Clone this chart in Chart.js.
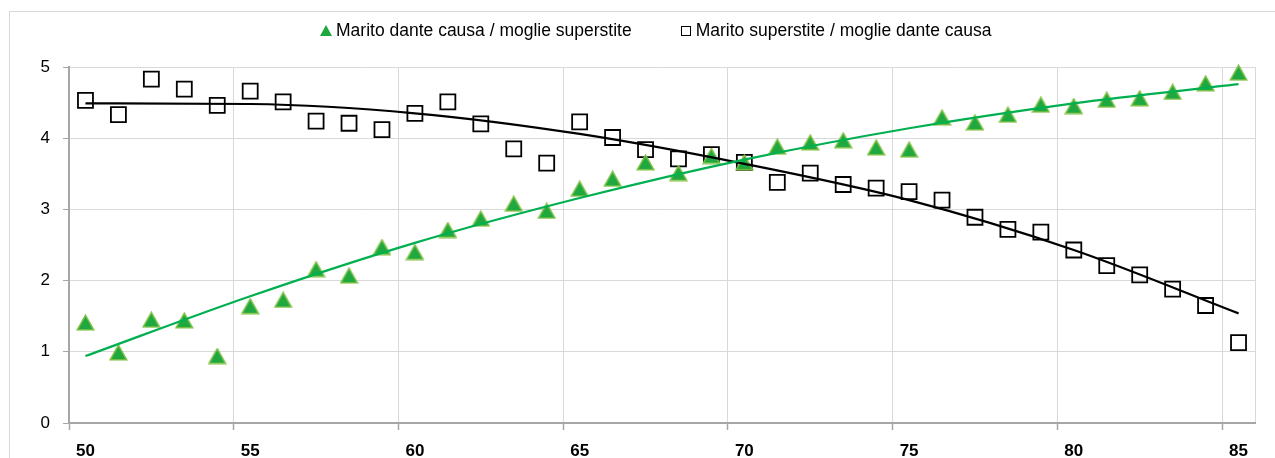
<!DOCTYPE html>
<html>
<head>
<meta charset="utf-8">
<script src="https://cdn.jsdelivr.net/npm/chart.js@4"></script>
<style>
  html, body { margin: 0; padding: 0; background: #fff; }
  #wrap { position: relative; width: 1275px; height: 458px; overflow: hidden; font-family: 'Liberation Sans', Arial, sans-serif; }
  #frame { position: absolute; left: 9px; top: 11px; width: 1300px; height: 500px; border: 1px solid #d9d9d9; }
  #chart { position: absolute; left: 0; top: 0; }
  #legend { position: absolute; left: 320px; top: 20px; display: flex; align-items: center; font-size: 17.5px; color: #000; white-space: nowrap; }
  .item { display: flex; align-items: center; }
  .item + .item { margin-left: 49px; }
  .tri { width: 0; height: 0; border-left: 6px solid transparent; border-right: 6px solid transparent; border-bottom: 11px solid #1ea83f; margin-right: 4px; }
  .sq { width: 8px; height: 8px; border: 1.5px solid #000; margin-right: 5px; }
</style>
</head>
<body>
<div id="wrap">
  <div id="frame"></div>
  <canvas id="chart" width="1275" height="458"></canvas>
  <div id="legend"></div>
</div>
<script>
  // ── Data ──────────────────────────────────────────
  const ages = [50, 51, 52, 53, 54, 55, 56, 57, 58, 59, 60, 61, 62, 63, 64, 65, 66, 67,
                68, 69, 70, 71, 72, 73, 74, 75, 76, 77, 78, 79, 80, 81, 82, 83, 84, 85];
  const maritoDante = [1.41, 0.99, 1.45, 1.44, 0.94, 1.64, 1.73, 2.16, 2.07, 2.47, 2.40, 2.71,
                       2.87, 3.08, 2.98, 3.29, 3.43, 3.66, 3.51, 3.75, 3.66, 3.88, 3.94, 3.97,
                       3.87, 3.84, 4.29, 4.22, 4.33, 4.47, 4.45, 4.54, 4.56, 4.65, 4.77, 4.92];
  const maritoSuperstite = [4.53, 4.33, 4.83, 4.69, 4.46, 4.66, 4.51, 4.24, 4.21, 4.12, 4.35, 4.51,
                            4.20, 3.85, 3.65, 4.23, 4.01, 3.84, 3.71, 3.77, 3.66, 3.38, 3.51, 3.35,
                            3.30, 3.25, 3.13, 2.89, 2.72, 2.68, 2.43, 2.21, 2.08, 1.88, 1.65, 1.13];
  // trendlines
  const trendAges = [50, 55, 60, 65, 70, 75, 80, 85];
  const trendDante = [0.94, 1.78, 2.53, 3.16, 3.70, 4.14, 4.49, 4.76];
  const trendSuperstite = [4.49, 4.48, 4.35, 4.06, 3.64, 3.13, 2.43, 1.54];
  const labelDante = 'Marito dante causa / moglie superstite';
  const labelSuperstite = 'Marito superstite / moglie dante causa';

  // ── Styles ──────────────────────────────────────────
  const FONT = "'Liberation Sans', Arial, sans-serif";
  const GRID = '#d9d9d9';
  const AXIS = '#a6a6a6';

  // triangle marker centred in its box, like the spreadsheet one
  function triangleMarker() {
    const c = document.createElement('canvas');
    c.width = 19; c.height = 17;
    const g = c.getContext('2d');
    g.beginPath();
    g.moveTo(9.5, 1.2); g.lineTo(17.8, 15.8); g.lineTo(1.2, 15.8); g.closePath();
    g.fillStyle = '#1ea83f'; g.fill();
    g.lineWidth = 1.5; g.strokeStyle = '#7cc043'; g.stroke();
    return c;
  }

  const isMajor = ctx => ctx.index === undefined || ages[ctx.index] % 5 === 0;

  const trendPts = (vals) => trendAges.map((a, i) => ({ x: String(a), y: vals[i] }));

  const chart = new Chart(document.getElementById('chart'), {
    type: 'line',
    data: {
      labels: ages.map(String),
      datasets: [
        { label: 'trend dante', data: trendPts(trendDante), borderColor: '#00b050', borderWidth: 2.2,
          pointRadius: 0, cubicInterpolationMode: 'monotone', spanGaps: true, order: 0, clip: false },
        { label: 'trend superstite', data: trendPts(trendSuperstite), borderColor: '#000', borderWidth: 2.2,
          pointRadius: 0, cubicInterpolationMode: 'monotone', spanGaps: true, order: 0, clip: false },
        { label: labelDante, data: maritoDante, showLine: false, pointStyle: triangleMarker(), pointRadius: 9,
          legendMarker: 'tri', order: 1, clip: false },
        { label: labelSuperstite, data: maritoSuperstite, showLine: false, pointStyle: 'rect', pointRadius: 10.6,
          pointBorderWidth: 1.8, pointBorderColor: '#000', pointBackgroundColor: 'rgba(0,0,0,0)',
          legendMarker: 'sq', order: 1, clip: false }
      ]
    },
    options: {
      responsive: false, animation: false, devicePixelRatio: 1,
      layout: { padding: { left: 10, right: 20, top: 67, bottom: 0 } },
      plugins: { legend: { display: false }, tooltip: { enabled: false } },
      scales: {
        x: {
          type: 'category', offset: true,
          grid: { offset: true, color: ctx => isMajor(ctx) ? GRID : 'rgba(0,0,0,0)',
                  tickColor: ctx => (ctx.index !== undefined && ages[ctx.index] % 5 === 0) ? AXIS : 'rgba(0,0,0,0)',
                  tickLength: 7, tickWidth: 1.5 },
          border: { color: AXIS, width: 2 },
          ticks: { autoSkip: false, maxRotation: 0, padding: 11, color: '#000',
                   font: { family: FONT, size: 17, weight: 'bold' },
                   callback: (v) => ages[v] % 5 === 0 ? String(ages[v]) : '' },
          afterFit: (s) => { s.height = 35; }
        },
        y: {
          min: 0, max: 5,
          ticks: { stepSize: 1, padding: 13, color: '#000', font: { family: FONT, size: 17 } },
          grid: { color: GRID, tickColor: AXIS, tickLength: 6 },
          border: { color: AXIS, width: 2 },
          afterFit: (s) => { s.width = 59; }
        }
      }
    }
  });

  // ── HTML legend ──────────────────────────────────────────
  const legend = document.getElementById('legend');
  chart.data.datasets.filter(d => d.legendMarker).forEach(d => {
    const item = document.createElement('span');
    item.className = 'item';
    const mk = document.createElement('span');
    mk.className = d.legendMarker;
    const txt = document.createElement('span');
    txt.textContent = d.label;
    item.appendChild(mk); item.appendChild(txt);
    legend.appendChild(item);
  });
</script>
</body>
</html>
